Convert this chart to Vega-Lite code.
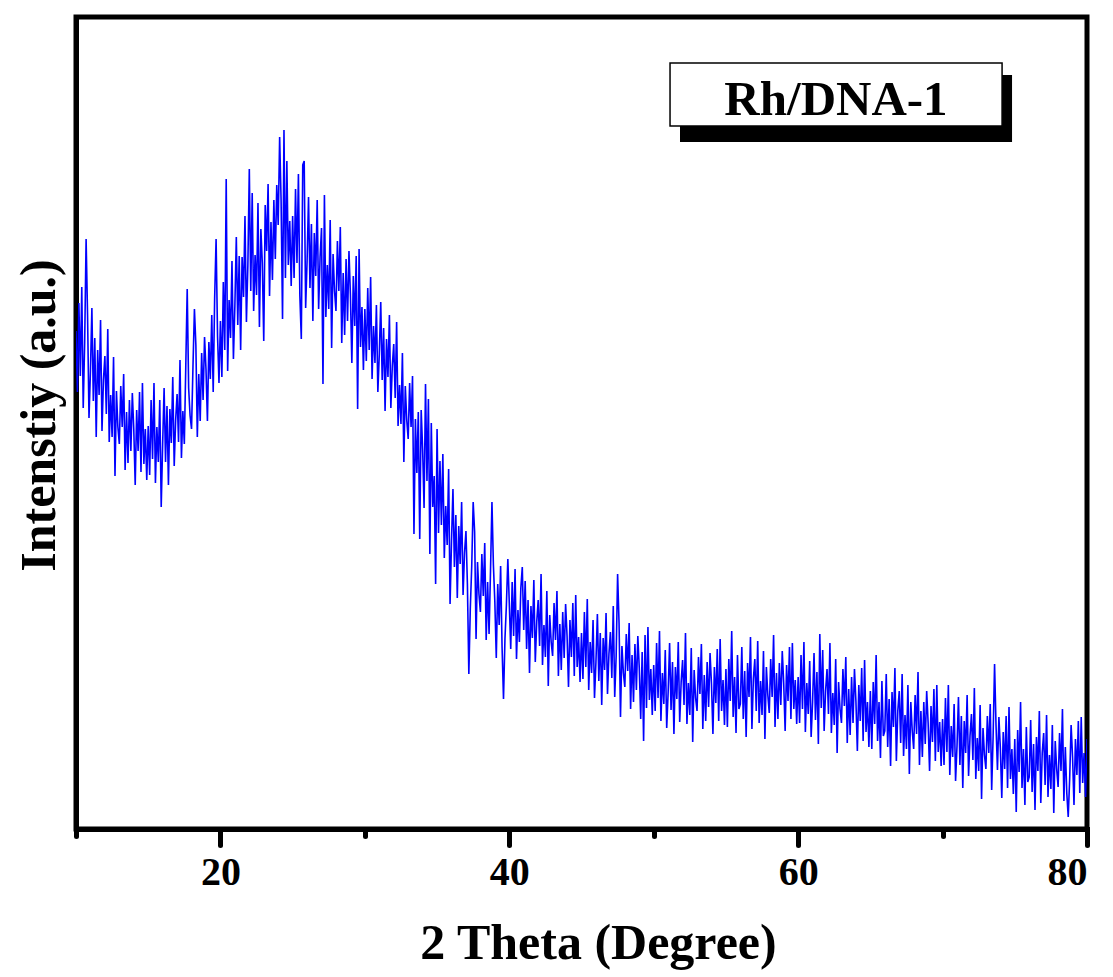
{
"$schema": "https://vega.github.io/schema/vega-lite/v6.json",
"width": 1011, "height": 812,
"autosize": {"type": "none"},
"padding": {"left": 76, "top": 17, "right": 26, "bottom": 148},
"background": "white",
"config": {"view": {"stroke": "black", "strokeWidth": 5}, "font": "Liberation Serif"},
"layer": [
{"data": {"values": [
{"theta":10.0,"I":498},{"theta":10.1,"I":437},{"theta":10.2,"I":526},{"theta":10.3,"I":453},{"theta":10.4,"I":542},{"theta":10.5,"I":421},{"theta":10.6,"I":486},{"theta":10.7,"I":590},{"theta":10.8,"I":514},{"theta":10.9,"I":411},
{"theta":11.0,"I":458},{"theta":11.1,"I":521},{"theta":11.2,"I":428},{"theta":11.3,"I":491},{"theta":11.4,"I":392},{"theta":11.5,"I":479},{"theta":11.6,"I":434},{"theta":11.7,"I":509},{"theta":11.8,"I":398},{"theta":11.9,"I":449},
{"theta":12.0,"I":473},{"theta":12.1,"I":415},{"theta":12.2,"I":500},{"theta":12.3,"I":387},{"theta":12.4,"I":434},{"theta":12.5,"I":392},{"theta":12.6,"I":472},{"theta":12.7,"I":353},{"theta":12.8,"I":438},{"theta":12.9,"I":402},
{"theta":13.0,"I":385},{"theta":13.1,"I":443},{"theta":13.2,"I":402},{"theta":13.3,"I":455},{"theta":13.4,"I":359},{"theta":13.5,"I":417},{"theta":13.6,"I":366},{"theta":13.7,"I":429},{"theta":13.8,"I":378},{"theta":13.9,"I":436},
{"theta":14.0,"I":400},{"theta":14.1,"I":344},{"theta":14.2,"I":419},{"theta":14.3,"I":378},{"theta":14.4,"I":437},{"theta":14.5,"I":357},{"theta":14.6,"I":446},{"theta":14.7,"I":365},{"theta":14.8,"I":400},{"theta":14.9,"I":349},
{"theta":15.0,"I":403},{"theta":15.1,"I":354},{"theta":15.2,"I":429},{"theta":15.3,"I":370},{"theta":15.4,"I":446},{"theta":15.5,"I":346},{"theta":15.6,"I":402},{"theta":15.7,"I":367},{"theta":15.8,"I":429},{"theta":15.9,"I":322},
{"theta":16.0,"I":385},{"theta":16.1,"I":441},{"theta":16.2,"I":367},{"theta":16.3,"I":423},{"theta":16.4,"I":344},{"theta":16.5,"I":420},{"theta":16.6,"I":386},{"theta":16.7,"I":452},{"theta":16.8,"I":363},{"theta":16.9,"I":409},
{"theta":17.0,"I":435},{"theta":17.1,"I":387},{"theta":17.2,"I":469},{"theta":17.3,"I":371},{"theta":17.4,"I":418},{"theta":17.5,"I":385},{"theta":17.6,"I":462},{"theta":17.7,"I":540},{"theta":17.8,"I":441},{"theta":17.9,"I":413},
{"theta":18.0,"I":400},{"theta":18.1,"I":463},{"theta":18.2,"I":520},{"theta":18.3,"I":484},{"theta":18.4,"I":392},{"theta":18.5,"I":455},{"theta":18.6,"I":408},{"theta":18.7,"I":476},{"theta":18.8,"I":429},{"theta":18.9,"I":492},
{"theta":19.0,"I":460},{"theta":19.1,"I":408},{"theta":19.2,"I":487},{"theta":19.3,"I":450},{"theta":19.4,"I":514},{"theta":19.5,"I":437},{"theta":19.6,"I":531},{"theta":19.7,"I":590},{"theta":19.8,"I":493},{"theta":19.9,"I":446},
{"theta":20.0,"I":508},{"theta":20.1,"I":452},{"theta":20.2,"I":547},{"theta":20.3,"I":479},{"theta":20.4,"I":650},{"theta":20.5,"I":458},{"theta":20.6,"I":529},{"theta":20.7,"I":491},{"theta":20.8,"I":568},{"theta":20.9,"I":470},
{"theta":21.0,"I":523},{"theta":21.1,"I":592},{"theta":21.2,"I":504},{"theta":21.3,"I":573},{"theta":21.4,"I":479},{"theta":21.5,"I":572},{"theta":21.6,"I":532},{"theta":21.7,"I":613},{"theta":21.8,"I":507},{"theta":21.9,"I":564},
{"theta":22.0,"I":660},{"theta":22.1,"I":538},{"theta":22.2,"I":636},{"theta":22.3,"I":518},{"theta":22.4,"I":574},{"theta":22.5,"I":534},{"theta":22.6,"I":626},{"theta":22.7,"I":502},{"theta":22.8,"I":600},{"theta":22.9,"I":566},
{"theta":23.0,"I":488},{"theta":23.1,"I":624},{"theta":23.2,"I":578},{"theta":23.3,"I":645},{"theta":23.4,"I":533},{"theta":23.5,"I":607},{"theta":23.6,"I":549},{"theta":23.7,"I":629},{"theta":23.8,"I":570},{"theta":23.9,"I":644},
{"theta":24.0,"I":604},{"theta":24.1,"I":692},{"theta":24.2,"I":629},{"theta":24.3,"I":510},{"theta":24.4,"I":699},{"theta":24.5,"I":551},{"theta":24.6,"I":668},{"theta":24.7,"I":564},{"theta":24.8,"I":608},{"theta":24.9,"I":543},
{"theta":25.0,"I":613},{"theta":25.1,"I":551},{"theta":25.2,"I":640},{"theta":25.3,"I":566},{"theta":25.4,"I":655},{"theta":25.5,"I":533},{"theta":25.6,"I":490},{"theta":25.7,"I":664},{"theta":25.8,"I":668},{"theta":25.9,"I":521},
{"theta":26.0,"I":568},{"theta":26.1,"I":632},{"theta":26.2,"I":541},{"theta":26.3,"I":605},{"theta":26.4,"I":508},{"theta":26.5,"I":596},{"theta":26.6,"I":553},{"theta":26.7,"I":629},{"theta":26.8,"I":520},{"theta":26.9,"I":572},
{"theta":27.0,"I":601},{"theta":27.1,"I":445},{"theta":27.2,"I":634},{"theta":27.3,"I":512},{"theta":27.4,"I":564},{"theta":27.5,"I":520},{"theta":27.6,"I":609},{"theta":27.7,"I":481},{"theta":27.8,"I":575},{"theta":27.9,"I":538},
{"theta":28.0,"I":518},{"theta":28.1,"I":588},{"theta":28.2,"I":538},{"theta":28.3,"I":602},{"theta":28.4,"I":486},{"theta":28.5,"I":556},{"theta":28.6,"I":494},{"theta":28.7,"I":570},{"theta":28.8,"I":508},{"theta":28.9,"I":578},
{"theta":29.0,"I":534},{"theta":29.1,"I":466},{"theta":29.2,"I":553},{"theta":29.3,"I":503},{"theta":29.4,"I":573},{"theta":29.5,"I":420},{"theta":29.6,"I":580},{"theta":29.7,"I":482},{"theta":29.8,"I":522},{"theta":29.9,"I":459},
{"theta":30.0,"I":520},{"theta":30.1,"I":468},{"theta":30.2,"I":541},{"theta":30.3,"I":479},{"theta":30.4,"I":552},{"theta":30.5,"I":450},{"theta":30.6,"I":503},{"theta":30.7,"I":466},{"theta":30.8,"I":524},{"theta":30.9,"I":437},
{"theta":31.0,"I":475},{"theta":31.1,"I":527},{"theta":31.2,"I":449},{"theta":31.3,"I":501},{"theta":31.4,"I":418},{"theta":31.5,"I":490},{"theta":31.6,"I":452},{"theta":31.7,"I":514},{"theta":31.8,"I":421},{"theta":31.9,"I":463},
{"theta":32.0,"I":485},{"theta":32.1,"I":431},{"theta":32.2,"I":507},{"theta":32.3,"I":403},{"theta":32.4,"I":444},{"theta":32.5,"I":405},{"theta":32.6,"I":476},{"theta":32.7,"I":367},{"theta":32.8,"I":443},{"theta":32.9,"I":409},
{"theta":33.0,"I":390},{"theta":33.1,"I":446},{"theta":33.2,"I":402},{"theta":33.3,"I":453},{"theta":33.4,"I":295},{"theta":33.5,"I":410},{"theta":33.6,"I":356},{"theta":33.7,"I":417},{"theta":33.8,"I":290},{"theta":33.9,"I":419},
{"theta":34.0,"I":380},{"theta":34.1,"I":321},{"theta":34.2,"I":445},{"theta":34.3,"I":348},{"theta":34.4,"I":430},{"theta":34.5,"I":275},{"theta":34.6,"I":406},{"theta":34.7,"I":322},{"theta":34.8,"I":353},{"theta":34.9,"I":245},
{"theta":35.0,"I":400},{"theta":35.1,"I":296},{"theta":35.2,"I":368},{"theta":35.3,"I":304},{"theta":35.4,"I":375},{"theta":35.5,"I":271},{"theta":35.6,"I":323},{"theta":35.7,"I":284},{"theta":35.8,"I":360},{"theta":35.9,"I":225},
{"theta":36.0,"I":288},{"theta":36.1,"I":340},{"theta":36.2,"I":262},{"theta":36.3,"I":314},{"theta":36.4,"I":231},{"theta":36.5,"I":303},{"theta":36.6,"I":265},{"theta":36.7,"I":327},{"theta":36.8,"I":234},{"theta":36.9,"I":276},
{"theta":37.0,"I":298},{"theta":37.1,"I":245},{"theta":37.2,"I":155},{"theta":37.3,"I":220},{"theta":37.4,"I":263},{"theta":37.5,"I":327},{"theta":37.6,"I":297},{"theta":37.7,"I":190},{"theta":37.8,"I":267},{"theta":37.9,"I":235},
{"theta":38.0,"I":217},{"theta":38.1,"I":275},{"theta":38.2,"I":233},{"theta":38.3,"I":286},{"theta":38.4,"I":189},{"theta":38.5,"I":247},{"theta":38.6,"I":195},{"theta":38.7,"I":258},{"theta":38.8,"I":327},{"theta":38.9,"I":264},
{"theta":39.0,"I":227},{"theta":39.1,"I":171},{"theta":39.2,"I":245},{"theta":39.3,"I":204},{"theta":39.4,"I":263},{"theta":39.5,"I":182},{"theta":39.6,"I":130},{"theta":39.7,"I":190},{"theta":39.8,"I":224},{"theta":39.9,"I":270},
{"theta":40.0,"I":226},{"theta":40.1,"I":180},{"theta":40.2,"I":247},{"theta":40.3,"I":193},{"theta":40.4,"I":260},{"theta":40.5,"I":170},{"theta":40.6,"I":219},{"theta":40.7,"I":187},{"theta":40.8,"I":241},{"theta":40.9,"I":262},
{"theta":41.0,"I":199},{"theta":41.1,"I":248},{"theta":41.2,"I":180},{"theta":41.3,"I":229},{"theta":41.4,"I":156},{"theta":41.5,"I":223},{"theta":41.6,"I":191},{"theta":41.7,"I":249},{"theta":41.8,"I":167},{"theta":41.9,"I":207},
{"theta":42.0,"I":229},{"theta":42.1,"I":183},{"theta":42.2,"I":255},{"theta":42.3,"I":164},{"theta":42.4,"I":204},{"theta":42.5,"I":172},{"theta":42.6,"I":238},{"theta":42.7,"I":143},{"theta":42.8,"I":214},{"theta":42.9,"I":187},
{"theta":43.0,"I":173},{"theta":43.1,"I":226},{"theta":43.2,"I":189},{"theta":43.3,"I":238},{"theta":43.4,"I":153},{"theta":43.5,"I":205},{"theta":43.6,"I":159},{"theta":43.7,"I":217},{"theta":43.8,"I":171},{"theta":43.9,"I":225},
{"theta":44.0,"I":193},{"theta":44.1,"I":142},{"theta":44.2,"I":209},{"theta":44.3,"I":172},{"theta":44.4,"I":226},{"theta":44.5,"I":153},{"theta":44.6,"I":234},{"theta":44.7,"I":162},{"theta":44.8,"I":192},{"theta":44.9,"I":147},
{"theta":45.0,"I":196},{"theta":45.1,"I":150},{"theta":45.2,"I":217},{"theta":45.3,"I":162},{"theta":45.4,"I":230},{"theta":45.5,"I":139},{"theta":45.6,"I":187},{"theta":45.7,"I":156},{"theta":45.8,"I":209},{"theta":45.9,"I":131},
{"theta":46.0,"I":167},{"theta":46.1,"I":215},{"theta":46.2,"I":148},{"theta":46.3,"I":196},{"theta":46.4,"I":124},{"theta":46.5,"I":191},{"theta":46.6,"I":159},{"theta":46.7,"I":216},{"theta":46.8,"I":135},{"theta":46.9,"I":175},
{"theta":47.0,"I":197},{"theta":47.1,"I":151},{"theta":47.2,"I":223},{"theta":47.3,"I":132},{"theta":47.4,"I":173},{"theta":47.5,"I":255},{"theta":47.6,"I":206},{"theta":47.7,"I":112},{"theta":47.8,"I":183},{"theta":47.9,"I":156},
{"theta":48.0,"I":142},{"theta":48.1,"I":195},{"theta":48.2,"I":158},{"theta":48.3,"I":206},{"theta":48.4,"I":120},{"theta":48.5,"I":174},{"theta":48.6,"I":127},{"theta":48.7,"I":185},{"theta":48.8,"I":139},{"theta":48.9,"I":193},
{"theta":49.0,"I":161},{"theta":49.1,"I":110},{"theta":49.2,"I":177},{"theta":49.3,"I":88},{"theta":49.4,"I":194},{"theta":49.5,"I":121},{"theta":49.6,"I":202},{"theta":49.7,"I":129},{"theta":49.8,"I":160},{"theta":49.9,"I":114},
{"theta":50.0,"I":164},{"theta":50.1,"I":118},{"theta":50.2,"I":186},{"theta":50.3,"I":131},{"theta":50.4,"I":198},{"theta":50.5,"I":108},{"theta":50.6,"I":156},{"theta":50.7,"I":125},{"theta":50.8,"I":179},{"theta":50.9,"I":101},
{"theta":51.0,"I":137},{"theta":51.1,"I":186},{"theta":51.2,"I":119},{"theta":51.3,"I":167},{"theta":51.4,"I":95},{"theta":51.5,"I":162},{"theta":51.6,"I":130},{"theta":51.7,"I":187},{"theta":51.8,"I":107},{"theta":51.9,"I":147},
{"theta":52.0,"I":169},{"theta":52.1,"I":124},{"theta":52.2,"I":196},{"theta":52.3,"I":105},{"theta":52.4,"I":146},{"theta":52.5,"I":114},{"theta":52.6,"I":181},{"theta":52.7,"I":87},{"theta":52.8,"I":159},{"theta":52.9,"I":131},
{"theta":53.0,"I":118},{"theta":53.1,"I":172},{"theta":53.2,"I":135},{"theta":53.3,"I":185},{"theta":53.4,"I":100},{"theta":53.5,"I":154},{"theta":53.6,"I":108},{"theta":53.7,"I":167},{"theta":53.8,"I":122},{"theta":53.9,"I":176},
{"theta":54.0,"I":145},{"theta":54.1,"I":95},{"theta":54.2,"I":162},{"theta":54.3,"I":126},{"theta":54.4,"I":180},{"theta":54.5,"I":108},{"theta":54.6,"I":190},{"theta":54.7,"I":118},{"theta":54.8,"I":149},{"theta":54.9,"I":104},
{"theta":55.0,"I":160},{"theta":55.1,"I":102},{"theta":55.2,"I":170},{"theta":55.3,"I":128},{"theta":55.4,"I":198},{"theta":55.5,"I":112},{"theta":55.6,"I":152},{"theta":55.7,"I":96},{"theta":55.8,"I":174},{"theta":55.9,"I":120},
{"theta":56.0,"I":125},{"theta":56.1,"I":182},{"theta":56.2,"I":110},{"theta":56.3,"I":158},{"theta":56.4,"I":92},{"theta":56.5,"I":166},{"theta":56.6,"I":132},{"theta":56.7,"I":192},{"theta":56.8,"I":100},{"theta":56.9,"I":150},
{"theta":57.0,"I":170},{"theta":57.1,"I":118},{"theta":57.2,"I":188},{"theta":57.3,"I":106},{"theta":57.4,"I":148},{"theta":57.5,"I":114},{"theta":57.6,"I":178},{"theta":57.7,"I":90},{"theta":57.8,"I":162},{"theta":57.9,"I":134},
{"theta":58.0,"I":116},{"theta":58.1,"I":170},{"theta":58.2,"I":132},{"theta":58.3,"I":194},{"theta":58.4,"I":102},{"theta":58.5,"I":156},{"theta":58.6,"I":110},{"theta":58.7,"I":166},{"theta":58.8,"I":124},{"theta":58.9,"I":178},
{"theta":59.0,"I":146},{"theta":59.1,"I":98},{"theta":59.2,"I":164},{"theta":59.3,"I":128},{"theta":59.4,"I":182},{"theta":59.5,"I":110},{"theta":59.6,"I":186},{"theta":59.7,"I":120},{"theta":59.8,"I":149},{"theta":59.9,"I":105},
{"theta":60.0,"I":152},{"theta":60.1,"I":106},{"theta":60.2,"I":174},{"theta":60.3,"I":120},{"theta":60.4,"I":187},{"theta":60.5,"I":97},{"theta":60.6,"I":146},{"theta":60.7,"I":115},{"theta":60.8,"I":168},{"theta":60.9,"I":92},
{"theta":61.0,"I":127},{"theta":61.1,"I":176},{"theta":61.2,"I":109},{"theta":61.3,"I":157},{"theta":61.4,"I":85},{"theta":61.5,"I":195},{"theta":61.6,"I":121},{"theta":61.7,"I":179},{"theta":61.8,"I":98},{"theta":61.9,"I":138},
{"theta":62.0,"I":160},{"theta":62.1,"I":115},{"theta":62.2,"I":186},{"theta":62.3,"I":96},{"theta":62.4,"I":136},{"theta":62.5,"I":104},{"theta":62.6,"I":170},{"theta":62.7,"I":76},{"theta":62.8,"I":147},{"theta":62.9,"I":120},
{"theta":63.0,"I":106},{"theta":63.1,"I":160},{"theta":63.2,"I":123},{"theta":63.3,"I":172},{"theta":63.4,"I":86},{"theta":63.5,"I":140},{"theta":63.6,"I":94},{"theta":63.7,"I":152},{"theta":63.8,"I":106},{"theta":63.9,"I":160},
{"theta":64.0,"I":128},{"theta":64.1,"I":78},{"theta":64.2,"I":144},{"theta":64.3,"I":108},{"theta":64.4,"I":161},{"theta":64.5,"I":88},{"theta":64.6,"I":169},{"theta":64.7,"I":97},{"theta":64.8,"I":127},{"theta":64.9,"I":82},
{"theta":65.0,"I":138},{"theta":65.1,"I":80},{"theta":65.2,"I":147},{"theta":65.3,"I":105},{"theta":65.4,"I":174},{"theta":65.5,"I":88},{"theta":65.6,"I":127},{"theta":65.7,"I":71},{"theta":65.8,"I":148},{"theta":65.9,"I":93},
{"theta":66.0,"I":98},{"theta":66.1,"I":155},{"theta":66.2,"I":82},{"theta":66.3,"I":130},{"theta":66.4,"I":63},{"theta":66.5,"I":137},{"theta":66.6,"I":102},{"theta":66.7,"I":161},{"theta":66.8,"I":68},{"theta":66.9,"I":118},
{"theta":67.0,"I":138},{"theta":67.1,"I":86},{"theta":67.2,"I":155},{"theta":67.3,"I":73},{"theta":67.4,"I":114},{"theta":67.5,"I":80},{"theta":67.6,"I":144},{"theta":67.7,"I":55},{"theta":67.8,"I":127},{"theta":67.9,"I":98},
{"theta":68.0,"I":80},{"theta":68.1,"I":134},{"theta":68.2,"I":95},{"theta":68.3,"I":157},{"theta":68.4,"I":64},{"theta":68.5,"I":118},{"theta":68.6,"I":72},{"theta":68.7,"I":127},{"theta":68.8,"I":85},{"theta":68.9,"I":138},
{"theta":69.0,"I":106},{"theta":69.1,"I":58},{"theta":69.2,"I":123},{"theta":69.3,"I":87},{"theta":69.4,"I":140},{"theta":69.5,"I":68},{"theta":69.6,"I":144},{"theta":69.7,"I":77},{"theta":69.8,"I":107},{"theta":69.9,"I":63},
{"theta":70.0,"I":110},{"theta":70.1,"I":64},{"theta":70.2,"I":131},{"theta":70.3,"I":77},{"theta":70.4,"I":144},{"theta":70.5,"I":54},{"theta":70.6,"I":103},{"theta":70.7,"I":72},{"theta":70.8,"I":125},{"theta":70.9,"I":48},
{"theta":71.0,"I":83},{"theta":71.1,"I":132},{"theta":71.2,"I":64},{"theta":71.3,"I":113},{"theta":71.4,"I":41},{"theta":71.5,"I":108},{"theta":71.6,"I":76},{"theta":71.7,"I":134},{"theta":71.8,"I":53},{"theta":71.9,"I":93},
{"theta":72.0,"I":115},{"theta":72.1,"I":69},{"theta":72.2,"I":141},{"theta":72.3,"I":50},{"theta":72.4,"I":91},{"theta":72.5,"I":58},{"theta":72.6,"I":124},{"theta":72.7,"I":30},{"theta":72.8,"I":101},{"theta":72.9,"I":74},
{"theta":73.0,"I":60},{"theta":73.1,"I":113},{"theta":73.2,"I":76},{"theta":73.3,"I":125},{"theta":73.4,"I":39},{"theta":73.5,"I":93},{"theta":73.6,"I":165},{"theta":73.7,"I":104},{"theta":73.8,"I":59},{"theta":73.9,"I":112},
{"theta":74.0,"I":81},{"theta":74.1,"I":31},{"theta":74.2,"I":97},{"theta":74.3,"I":60},{"theta":74.4,"I":113},{"theta":74.5,"I":41},{"theta":74.6,"I":122},{"theta":74.7,"I":50},{"theta":74.8,"I":80},{"theta":74.9,"I":35},
{"theta":75.0,"I":90},{"theta":75.1,"I":17},{"theta":75.2,"I":99},{"theta":75.3,"I":57},{"theta":75.4,"I":127},{"theta":75.5,"I":41},{"theta":75.6,"I":80},{"theta":75.7,"I":24},{"theta":75.8,"I":102},{"theta":75.9,"I":47},
{"theta":76.0,"I":52},{"theta":76.1,"I":109},{"theta":76.2,"I":37},{"theta":76.3,"I":85},{"theta":76.4,"I":19},{"theta":76.5,"I":92},{"theta":76.6,"I":58},{"theta":76.7,"I":118},{"theta":76.8,"I":26},{"theta":76.9,"I":76},
{"theta":77.0,"I":96},{"theta":77.1,"I":44},{"theta":77.2,"I":114},{"theta":77.3,"I":32},{"theta":77.4,"I":74},{"theta":77.5,"I":40},{"theta":77.6,"I":104},{"theta":77.7,"I":16},{"theta":77.8,"I":88},{"theta":77.9,"I":60},
{"theta":78.0,"I":42},{"theta":78.1,"I":96},{"theta":78.2,"I":58},{"theta":78.3,"I":120},{"theta":78.4,"I":28},{"theta":78.5,"I":82},{"theta":78.6,"I":36},{"theta":78.7,"I":12},{"theta":78.8,"I":50},{"theta":78.9,"I":104},
{"theta":79.0,"I":72},{"theta":79.1,"I":24},{"theta":79.2,"I":90},{"theta":79.3,"I":54},{"theta":79.4,"I":108},{"theta":79.5,"I":36},{"theta":79.6,"I":112},{"theta":79.7,"I":46},{"theta":79.8,"I":76},{"theta":79.9,"I":32},
{"theta":80.0,"I":90}
]},
"mark": {"type": "line", "color": "#0000ff", "strokeWidth": 1.6, "clip": true},
"encoding": {
"x": {"field": "theta", "type": "quantitative",
 "scale": {"domain": [10, 80], "nice": false, "zero": false},
 "axis": {"title": "2 Theta (Degree)", "values": [10, 20, 30, 40, 50, 60, 70, 80],
  "labelExpr": "datum.value % 20 === 0 ? datum.label : ''",
  "tickSize": {"condition": {"test": "datum.value % 20 === 0", "value": 16}, "value": 7},
  "tickWidth": 5, "tickColor": "black", "tickCap": "round",
  "domainWidth": 5, "domainColor": "black", "domainCap": "square", "grid": false,
  "labelFont": "Liberation Serif", "labelFontSize": 40, "labelFontWeight": "bold", "labelColor": "black", "labelPadding": 7,
  "titleFont": "Liberation Serif", "titleFontSize": 50, "titleFontWeight": "bold", "titleColor": "black", "titlePadding": 26, "titleX": 522}},
"y": {"field": "I", "type": "quantitative",
 "scale": {"domain": [0, 812], "nice": false, "zero": false},
 "axis": {"title": "Intenstiy (a.u.)", "labels": false, "ticks": false, "grid": false,
  "domainWidth": 5, "domainColor": "black", "domainCap": "square",
  "titleFont": "Liberation Serif", "titleFontSize": 50, "titleFontWeight": "bold", "titleColor": "black", "titlePadding": 12, "titleY": 398}}
}},
{"data": {"values": [{"label": "Rh/DNA-1"}]},
 "mark": {"type": "rect", "fill": "black"},
 "encoding": {"x": {"datum": 51.82}, "x2": {"datum": 74.81}, "y": {"datum": 754}, "y2": {"datum": 687}}},
{"data": {"values": [{"label": "Rh/DNA-1"}]},
 "mark": {"type": "rect", "fill": "white", "stroke": "black", "strokeWidth": 1.5},
 "encoding": {"x": {"datum": 51.13}, "x2": {"datum": 74.12}, "y": {"datum": 766}, "y2": {"datum": 703}}},
{"data": {"values": [{"label": "Rh/DNA-1"}]},
 "mark": {"type": "text", "font": "Liberation Serif", "fontSize": 49, "fontWeight": "bold", "color": "black", "align": "center", "baseline": "alphabetic"},
 "encoding": {"x": {"datum": 62.62}, "y": {"datum": 714}, "text": {"field": "label"}}}
]
}
